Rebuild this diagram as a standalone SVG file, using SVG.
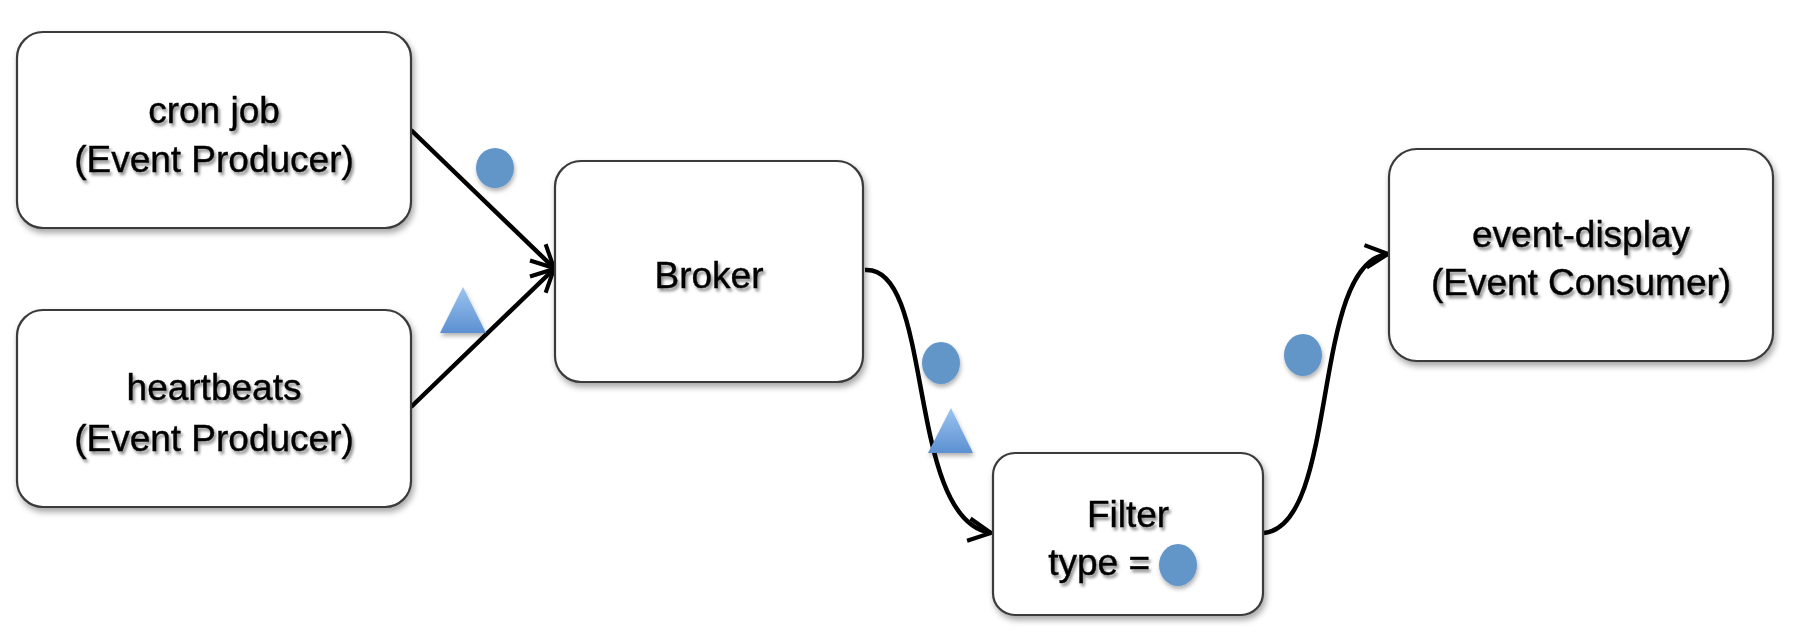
<svg xmlns="http://www.w3.org/2000/svg" width="1804" height="632" viewBox="0 0 1804 632">
  <defs>
    <style>
      .box { fill: #ffffff; stroke: #3a3a3a; stroke-width: 2.2; filter: url(#boxShadow); }
      .lbl { font-family: "Liberation Sans", Arial, sans-serif; font-size: 37px; fill: #000000; stroke: #000000; stroke-width: 0.4; text-anchor: middle; filter: url(#textShadow); }
      .conn { fill: none; stroke: #000000; stroke-width: 4.5; marker-end: url(#arrow); }
      .dot { fill: #6396c8; filter: url(#tokShadow); }
      .tri { fill: url(#triGrad); filter: url(#tokShadow); }
    </style>
    <filter id="boxShadow" x="-10%" y="-10%" width="125%" height="130%">
      <feDropShadow dx="2" dy="4" stdDeviation="3" flood-color="#000000" flood-opacity="0.35"/>
    </filter>
    <filter id="textShadow" x="-10%" y="-30%" width="125%" height="170%">
      <feDropShadow dx="2" dy="3" stdDeviation="1.8" flood-color="#000000" flood-opacity="0.45"/>
    </filter>
    <filter id="tokShadow" x="-30%" y="-30%" width="170%" height="170%">
      <feDropShadow dx="1" dy="3" stdDeviation="2" flood-color="#000000" flood-opacity="0.3"/>
    </filter>
    <linearGradient id="triGrad" x1="0" y1="0" x2="0" y2="1">
      <stop offset="0" stop-color="#9cc4ef"/>
      <stop offset="1" stop-color="#5b90d2"/>
    </linearGradient>
    <marker id="arrow" viewBox="0 0 12 12" refX="11" refY="6" markerWidth="6" markerHeight="6" markerUnits="strokeWidth" orient="auto">
      <path d="M1,1 L11,6 L1,11" fill="none" stroke="#000000" stroke-width="1.8"/>
    </marker>
  </defs>

  <rect width="1804" height="632" fill="#ffffff"/>

  <g id="connectors">
    <path class="conn" d="M411,130 L554,268"/>
    <path class="conn" d="M411,407 L554,269"/>
    <path class="conn" d="M865,270 C935,265 905,520 991,533"/>
    <path class="conn" d="M1264,533 C1340,525 1310,262 1388,254"/>
  </g>

  <g id="node-cron">
    <rect class="box" x="17" y="32" width="394" height="196" rx="26" ry="26"/>
    <text class="lbl" x="214" y="123">cron job</text>
    <text class="lbl" x="214" y="172">(Event Producer)</text>
  </g>

  <g id="node-heartbeats">
    <rect class="box" x="17" y="310" width="394" height="197" rx="26" ry="26"/>
    <text class="lbl" x="214" y="400">heartbeats</text>
    <text class="lbl" x="214" y="451">(Event Producer)</text>
  </g>

  <g id="node-broker">
    <rect class="box" x="555" y="161" width="308" height="221" rx="26" ry="26"/>
    <text class="lbl" x="709" y="288">Broker</text>
  </g>

  <g id="node-filter">
    <rect class="box" x="993" y="453" width="270" height="162" rx="22" ry="22"/>
    <text class="lbl" x="1128" y="527">Filter</text>
    <text class="lbl" x="1150" y="575" style="text-anchor:end">type =</text>
    <ellipse class="dot" cx="1178" cy="565" rx="19" ry="21"/>
  </g>

  <g id="node-event-display">
    <rect class="box" x="1389" y="149" width="384" height="212" rx="28" ry="28"/>
    <text class="lbl" x="1581" y="247">event-display</text>
    <text class="lbl" x="1581" y="295">(Event Consumer)</text>
  </g>

  <g id="tokens">
    <ellipse class="dot" cx="495" cy="168" rx="19" ry="20"/>
    <polygon class="tri" points="463,287 486,333 440,333"/>
    <ellipse class="dot" cx="941" cy="363" rx="19" ry="21"/>
    <polygon class="tri" points="951,408 973,453 928,453"/>
    <ellipse class="dot" cx="1303" cy="355" rx="19" ry="21"/>
  </g>
</svg>
